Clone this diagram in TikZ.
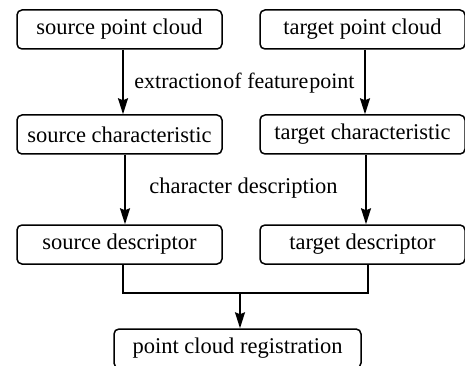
\documentclass[tikz,border=0pt]{standalone}
\usepackage{fontspec}
\setmainfont{Liberation Serif}
\usetikzlibrary{arrows.meta}
\begin{document}
\begin{tikzpicture}[x=1pt,y=-1pt,
  box/.style={draw,line width=1.5pt,rounded corners=5pt,minimum width=205pt,minimum height=39pt,inner sep=0pt,font=\fontsize{22.5}{24}\selectfont},
  arr/.style={line width=1.5pt,-{Stealth[length=16pt,width=10pt,inset=2pt]}},
  lbl/.style={font=\fontsize{22.5}{24}\selectfont,inner sep=0pt}]
\useasboundingbox (0,0) rectangle (465,366);
\begin{scope}
\clip (0,0) rectangle (465,366);
\node[box] (s1) at (119.5,29.5) {source point cloud};
\node[box] (t1) at (362.5,29.5) {target point cloud};
\node[box] (s2) at (119.5,134.5) {source characteristic};
\node[box] (t2) at (362.5,134.5) {target characteristic};
\node[box] (s3) at (119.5,244.5) {source descriptor};
\node[box] (t3) at (362.5,244.5) {target descriptor};
\node[box,minimum width=247pt] (r) at (237.5,348.5) {point cloud registration};
\node[lbl,font=\fontsize{22}{24}\selectfont] (l1) at (244.5,83) {extraction\hspace{1pt}of feature\hspace{1pt}point};
\node[lbl] (l2) at (243.5,188) {character description};
\draw[arr] ([xshift=3.5pt]s1.south) -- ([xshift=3.5pt]s2.north);
\draw[arr] ([xshift=2.5pt]t1.south) -- ([xshift=2.5pt]t2.north);
\draw[arr] ([xshift=5.5pt]s2.south) -- ([xshift=5.5pt]s3.north);
\draw[arr] ([xshift=3.5pt]t2.south) -- ([xshift=3.5pt]t3.north);
\coordinate (jl) at ([xshift=3.5pt,yshift=-28pt]s3.south);
\coordinate (jr) at ([xshift=5.5pt,yshift=-28pt]t3.south);
\coordinate (jm) at ([xshift=2.5pt]r.north |- jl);
\draw[line width=1.5pt] ([xshift=3.5pt]s3.south) -- (jl) -- (jr) -- ([xshift=5.5pt]t3.south);
\draw[arr] (jm) -- ([xshift=2.5pt]r.north);
\end{scope}
\end{tikzpicture}
\end{document}
